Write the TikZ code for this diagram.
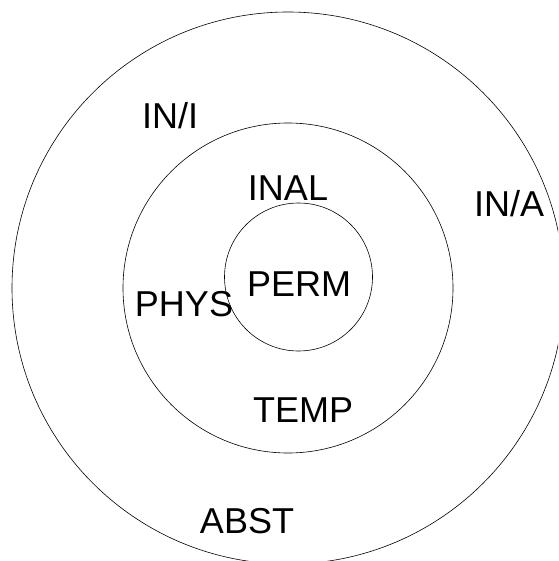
\documentclass[tikz,border=0pt]{standalone}
\usepackage{fontspec}
\setmainfont{Liberation Sans}
\usepackage{tikz}

\begin{document}
\begin{tikzpicture}[x=1pt, y=-1pt]
		\tikzset{ring/.style={shape = circle, draw, line width = 0.6pt, inner sep = 0pt}}
		\tikzset{label/.style={inner sep = 0pt, font = \fontsize{36}{36}\selectfont}}
		\useasboundingbox (0, 0) rectangle (558, 561);
		\clip (0, 0) rectangle (558, 561);
					%circles
					\node[ring, minimum size = 552pt] (abst) at (288, 288) {};
					\node[ring, minimum size = 330pt] (phys) at (288, 288) {};
					\node[ring, minimum size = 148pt] (perm) at (298.5, 277) {};
					%labels
					\node[label] (ini) at (170, 116) {IN/I};
					\node[label] (ina) at (509, 204) {IN/A};
					\node[label] (inal) at (288, 188) {INAL};
					\node[label] (physl) at (184, 304.5) {PHYS};
					\node[label] (perml) at (299, 284.5) {PERM};
					\node[label] (temp) at (303, 410) {TEMP};
					\node[label] (abstl) at (247, 521.5) {ABST};
					
					\end{tikzpicture}
\end{document}
